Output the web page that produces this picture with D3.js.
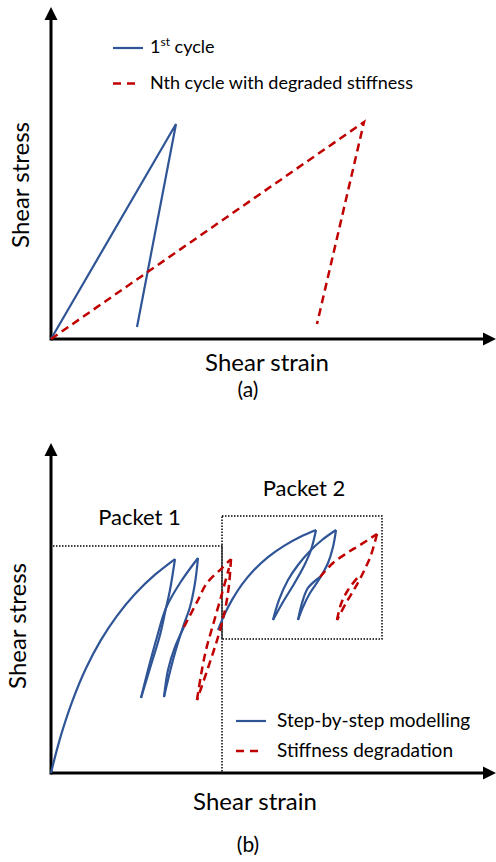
<!DOCTYPE html>
<html>
<head>
<meta charset="utf-8">
<script src="https://cdn.jsdelivr.net/npm/d3@7"></script>
<style>
  body { margin: 0; background: #fff; }
  text { font-family: Lato, "Open Sans", sans-serif; fill: #000; }
</style>
</head>
<body>
<div class="chart"></div>
<script>
// chart size
var svgWidth = 496;
var svgHeight = 862;

// Panel (a): [strain, stress] points
var firstCycle = [[0, 0], [31.25, 71.67], [21.5, 4]];
var nthCycle = [[0, 0], [78.25, 72.33], [66.5, 5]];

// Panel (b): step-by-step modelling (blue) segments
var backbone1 = [[0, 0], [1.25, 6.63], [3, 14.77], [5.5, 24.57], [8.75, 34.9], [12.5, 44.37], [16.5, 52.4], [21, 59.67], [26, 66.1], [31, 71.33]];
var unload1 = [[31, 71.33], [29.75, 61], [28.75, 55], [27.25, 46], [25, 36], [22.5, 25]];
var reload1 = [[22.5, 25], [24.25, 34.33], [26.5, 45.33], [28.75, 55], [32.25, 63.33], [36.75, 71.67]];
var unload2 = [[36.75, 71.67], [36, 63.33], [34.75, 55.33], [33, 48.67], [30.5, 37.67], [28.25, 25.33]];
var reload2 = [[28.25, 25.33], [29.25, 34.33], [31, 42], [33.25, 48.67]];
var backbone2 = [[41.75, 47.67], [43.25, 52.47], [45.25, 57.7], [47.75, 62.87], [50.75, 67.67], [54.25, 71.97], [58.25, 75.73], [62.25, 78.67], [66.25, 81]];
var unload3 = [[66.25, 81], [65, 74.33], [63.25, 69], [60.75, 63], [58, 57], [55.5, 51]];
var reload3 = [[55.5, 51], [57, 57.67], [59.25, 64.33], [61.75, 69.33], [64.75, 74], [67.75, 77.67], [71.25, 81]];
var unload4 = [[71.25, 81], [70.5, 75.33], [69.25, 70], [67.25, 65], [64.75, 60], [63, 55.33], [61.75, 51]];
var reload4 = [[61.75, 51], [62.75, 56.67], [64.25, 61.67], [67.25, 65.33]];

// Panel (b): stiffness degradation (red dashed) segments
var degrade1 = [[33.25, 48.67], [36.5, 57], [39, 63.33], [42.75, 68.33], [45, 71.33]];
var degUnload1 = [[45, 71.33], [44.5, 62.67], [43.5, 54.33], [41.75, 45.33], [39.25, 35], [36.5, 24.33]];
var degReload1 = [[36.5, 24.33], [37.5, 32.67], [38.75, 41], [40.5, 49.33], [42.5, 58.67], [44.5, 68.33]];
var degrade2 = [[67.25, 65.33], [70.5, 70], [74, 73.33], [77.25, 76], [81.5, 79.67]];
var degUnload2 = [[81.5, 79.67], [80, 72.67], [78, 66.67], [76, 61.67], [73.75, 56.67], [71.5, 51]];
var degReload2 = [[71.5, 51], [72.5, 56.33], [74.25, 61], [76.75, 65.33]];

// Packet boundaries (dotted)
var packet1Line = [[0.5, 75.67], [42.75, 75.67], [42.75, 0]];
var packet2Box = [[42.75, 85.67], [82.75, 85.67], [82.75, 44.67], [42.75, 44.67], [42.75, 85.67]];

var blue = "#2f5597";
var red = "#c00000";

var svg = d3.select(".chart")
    .append("svg")
    .attr("width", svgWidth)
    .attr("height", svgHeight);

// scales (axis ends sit at the arrow tips)
var xScale = d3.scaleLinear().domain([0, 111.25]).range([51, 496]);
var yScaleA = d3.scaleLinear().domain([0, 110.67]).range([339, 7]);
var yScaleB = d3.scaleLinear().domain([0, 110]).range([773, 443]);

function drawAxes(yScale) {
    var x0 = xScale(0), y0 = yScale(0);
    var xTip = xScale.range()[1], yTip = yScale.range()[1];
    svg.append("line")
        .attr("x1", x0).attr("y1", y0)
        .attr("x2", xTip - 10).attr("y2", y0)
        .attr("stroke", "#000").attr("stroke-width", 3);
    svg.append("line")
        .attr("x1", x0).attr("y1", y0 + 1.5)
        .attr("x2", x0).attr("y2", yTip + 10)
        .attr("stroke", "#000").attr("stroke-width", 3);
    svg.append("path")
        .attr("d", `M${xTip},${y0} L${xTip - 13},${y0 - 6.5} L${xTip - 13},${y0 + 6.5} Z`)
        .attr("fill", "#000");
    svg.append("path")
        .attr("d", `M${x0},${yTip} L${x0 - 6.5},${yTip + 13} L${x0 + 6.5},${yTip + 13} Z`)
        .attr("fill", "#000");
}

function drawSeg(pts, yScale, color, dashed, curve) {
    var line = d3.line()
        .x(d => xScale(d[0]))
        .y(d => yScale(d[1]))
        .curve(curve || d3.curveCatmullRom);
    svg.append("path")
        .datum(pts)
        .attr("d", line)
        .attr("fill", "none")
        .attr("stroke", color)
        .attr("stroke-width", dashed ? 2.5 : 2.2)
        .attr("stroke-dasharray", dashed ? "8,5" : null)
        .attr("stroke-linejoin", "miter");
}

function axisLabels(xMid, xBase, yMid, yBase, tag, tagY) {
    svg.append("text")
        .attr("x", xMid).attr("y", xBase)
        .attr("text-anchor", "middle")
        .style("font-size", "24px")
        .text("Shear strain");
    svg.append("text")
        .attr("transform", `translate(${yBase},${yMid}) rotate(-90)`)
        .attr("text-anchor", "middle")
        .style("font-size", "24px")
        .text("Shear stress");
    svg.append("text")
        .attr("x", 248).attr("y", tagY)
        .attr("text-anchor", "middle")
        .style("font-size", "21px")
        .text(tag);
}

// ---------- Panel (a) ----------
drawAxes(yScaleA);
drawSeg(firstCycle, yScaleA, blue, false, d3.curveLinear);
drawSeg(nthCycle, yScaleA, red, true, d3.curveLinear);
axisLabels(267, 371, 185, 29, "(a)", 397);

// legend (a)
svg.append("line").attr("x1", 113).attr("x2", 143).attr("y1", 48).attr("y2", 48)
    .attr("stroke", blue).attr("stroke-width", 2.2);
var t1 = svg.append("text").attr("x", 150).attr("y", 53).style("font-size", "18px");
t1.append("tspan").text("1");
t1.append("tspan").attr("dy", -7).style("font-size", "12px").text("st");
t1.append("tspan").attr("dy", 7).text(" cycle");
svg.append("line").attr("x1", 113).attr("x2", 141).attr("y1", 83.5).attr("y2", 83.5)
    .attr("stroke", red).attr("stroke-width", 2.5).attr("stroke-dasharray", "8,6");
svg.append("text").attr("x", 150).attr("y", 89).style("font-size", "18px")
    .text("Nth cycle with degraded stiffness");

// ---------- Panel (b) ----------
drawAxes(yScaleB);

[packet1Line, packet2Box].forEach(function(p) {
    svg.append("path")
        .datum(p)
        .attr("d", d3.line().x(d => xScale(d[0])).y(d => yScaleB(d[1])))
        .attr("fill", "none")
        .attr("stroke", "#000")
        .attr("stroke-width", 1.5)
        .attr("stroke-dasharray", "1.5,1.5");
});

[backbone1, unload1, reload1, unload2, reload2, backbone2, unload3, reload3, unload4, reload4]
    .forEach(p => drawSeg(p, yScaleB, blue, false));
[degrade1, degUnload1, degReload1, degrade2, degUnload2, degReload2]
    .forEach(p => drawSeg(p, yScaleB, red, true));

svg.append("text").attr("x", 139.5).attr("y", 525).attr("text-anchor", "middle")
    .style("font-size", "22px").text("Packet 1");
svg.append("text").attr("x", 304).attr("y", 496).attr("text-anchor", "middle")
    .style("font-size", "22px").text("Packet 2");

axisLabels(255, 810, 626, 26, "(b)", 852);

// legend (b)
svg.append("line").attr("x1", 236).attr("x2", 266).attr("y1", 721).attr("y2", 721)
    .attr("stroke", blue).attr("stroke-width", 2.2);
svg.append("text").attr("x", 277).attr("y", 727).style("font-size", "19px")
    .text("Step-by-step modelling");
svg.append("line").attr("x1", 236).attr("x2", 264).attr("y1", 751).attr("y2", 751)
    .attr("stroke", red).attr("stroke-width", 2.5).attr("stroke-dasharray", "8,6");
svg.append("text").attr("x", 277).attr("y", 757).style("font-size", "19px")
    .text("Stiffness degradation");
</script>
</body>
</html>
